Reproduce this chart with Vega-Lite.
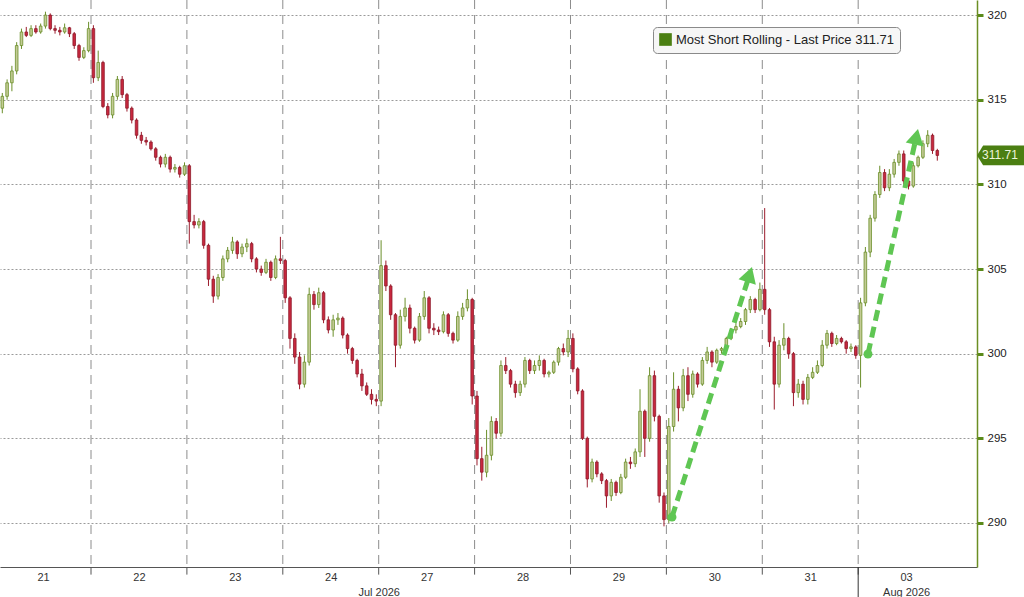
{
  "$schema": "https://vega.github.io/schema/vega-lite/v6.json",
  "width": 977,
  "height": 567,
  "autosize": {"type": "none"},
  "padding": {"left": 0, "top": 0, "right": 47, "bottom": 30},
  "background": "white",
  "config": {
    "font": "Liberation Sans",
    "view": {"stroke": null},
    "legend": {
      "orient": "none",
      "legendX": 653,
      "legendY": 27,
      "fillColor": "#f6f6f6",
      "strokeColor": "#8a8a8a",
      "cornerRadius": 4,
      "padding": 6,
      "labelFontSize": 13,
      "labelColor": "#222222",
      "labelLimit": 400,
      "symbolType": "square",
      "symbolSize": 160,
      "symbolStrokeWidth": 0
    }
  },
  "resolve": {"axis": {"x": "independent", "y": "independent"}},
  "datasets": {
    "candles": [
      {"i":1,"o":314.5,"h":315.4,"l":314.2,"c":315.2},
      {"i":2,"o":315.2,"h":316.2,"l":315.0,"c":316.0},
      {"i":3,"o":316.0,"h":317.0,"l":315.5,"c":316.7},
      {"i":4,"o":316.7,"h":318.4,"l":316.5,"c":318.2},
      {"i":5,"o":318.2,"h":319.2,"l":318.0,"c":319.0},
      {"i":6,"o":319.0,"h":319.3,"l":318.7,"c":318.8},
      {"i":7,"o":318.8,"h":319.4,"l":318.7,"c":319.2},
      {"i":8,"o":319.2,"h":319.4,"l":318.9,"c":319.0},
      {"i":9,"o":319.0,"h":319.5,"l":318.9,"c":319.35},
      {"i":10,"o":319.35,"h":320.2,"l":319.2,"c":320.0},
      {"i":11,"o":320.0,"h":320.1,"l":319.1,"c":319.2},
      {"i":12,"o":319.2,"h":319.4,"l":318.9,"c":319.1},
      {"i":13,"o":319.1,"h":319.3,"l":318.8,"c":319.0},
      {"i":14,"o":319.0,"h":319.5,"l":318.9,"c":319.25},
      {"i":15,"o":319.25,"h":319.3,"l":318.7,"c":318.9},
      {"i":16,"o":318.9,"h":319.0,"l":318.0,"c":318.2},
      {"i":17,"o":318.2,"h":318.3,"l":317.3,"c":317.5},
      {"i":18,"o":317.5,"h":318.1,"l":317.4,"c":317.9},
      {"i":19,"o":317.9,"h":319.6,"l":317.8,"c":319.2},
      {"i":20,"o":319.2,"h":319.4,"l":316.0,"c":316.3},
      {"i":21,"o":316.3,"h":317.9,"l":316.1,"c":317.2},
      {"i":22,"o":317.2,"h":317.3,"l":314.5,"c":314.6},
      {"i":23,"o":314.6,"h":314.8,"l":313.9,"c":314.1},
      {"i":24,"o":314.1,"h":315.4,"l":313.9,"c":315.2},
      {"i":25,"o":315.2,"h":316.4,"l":315.0,"c":316.2},
      {"i":26,"o":316.2,"h":316.4,"l":315.1,"c":315.3},
      {"i":27,"o":315.3,"h":315.4,"l":314.3,"c":314.5},
      {"i":28,"o":314.5,"h":314.6,"l":313.6,"c":313.8},
      {"i":29,"o":313.8,"h":313.9,"l":312.7,"c":312.9},
      {"i":30,"o":312.9,"h":313.1,"l":312.4,"c":312.6},
      {"i":31,"o":312.6,"h":312.8,"l":312.3,"c":312.5},
      {"i":32,"o":312.5,"h":312.6,"l":312.0,"c":312.1},
      {"i":33,"o":312.1,"h":312.2,"l":311.4,"c":311.6},
      {"i":34,"o":311.6,"h":311.7,"l":311.0,"c":311.2},
      {"i":35,"o":311.2,"h":311.8,"l":311.0,"c":311.6},
      {"i":36,"o":311.6,"h":311.7,"l":310.7,"c":310.9},
      {"i":37,"o":310.9,"h":311.2,"l":310.7,"c":311.0},
      {"i":38,"o":311.0,"h":311.1,"l":310.4,"c":310.6},
      {"i":39,"o":310.6,"h":311.3,"l":310.5,"c":311.1},
      {"i":40,"o":311.1,"h":311.2,"l":306.5,"c":307.8},
      {"i":41,"o":307.8,"h":308.2,"l":307.4,"c":307.6},
      {"i":42,"o":307.6,"h":308.0,"l":307.4,"c":307.8},
      {"i":43,"o":307.8,"h":307.9,"l":306.2,"c":306.4},
      {"i":44,"o":306.4,"h":306.5,"l":304.0,"c":304.4},
      {"i":45,"o":304.4,"h":304.6,"l":303.0,"c":303.4},
      {"i":46,"o":303.4,"h":304.7,"l":303.2,"c":304.5},
      {"i":47,"o":304.5,"h":305.8,"l":304.3,"c":305.6},
      {"i":48,"o":305.6,"h":306.3,"l":305.4,"c":306.1},
      {"i":49,"o":306.1,"h":306.9,"l":305.9,"c":306.6},
      {"i":50,"o":306.6,"h":306.7,"l":305.6,"c":305.9},
      {"i":51,"o":305.9,"h":306.5,"l":305.7,"c":306.3},
      {"i":52,"o":306.3,"h":306.8,"l":306.0,"c":306.5},
      {"i":53,"o":306.5,"h":306.6,"l":305.4,"c":305.6},
      {"i":54,"o":305.6,"h":305.7,"l":304.8,"c":305.0},
      {"i":55,"o":305.0,"h":305.2,"l":304.6,"c":304.8},
      {"i":56,"o":304.8,"h":305.6,"l":304.7,"c":305.4},
      {"i":57,"o":305.4,"h":305.5,"l":304.3,"c":304.5},
      {"i":58,"o":304.5,"h":305.8,"l":304.4,"c":305.6},
      {"i":59,"o":305.6,"h":306.9,"l":305.3,"c":305.5},
      {"i":60,"o":305.5,"h":305.6,"l":303.0,"c":303.3},
      {"i":61,"o":303.3,"h":303.4,"l":300.3,"c":300.9},
      {"i":62,"o":300.9,"h":301.2,"l":299.4,"c":299.8},
      {"i":63,"o":299.8,"h":300.1,"l":297.9,"c":298.2},
      {"i":64,"o":298.2,"h":299.9,"l":298.0,"c":299.5},
      {"i":65,"o":299.5,"h":303.9,"l":299.3,"c":303.5},
      {"i":66,"o":303.5,"h":303.7,"l":302.6,"c":302.9},
      {"i":67,"o":302.9,"h":303.9,"l":302.7,"c":303.6},
      {"i":68,"o":303.6,"h":303.7,"l":301.8,"c":302.0},
      {"i":69,"o":302.0,"h":302.2,"l":301.2,"c":301.4},
      {"i":70,"o":301.4,"h":302.3,"l":301.0,"c":302.0},
      {"i":71,"o":302.0,"h":302.4,"l":301.7,"c":302.1},
      {"i":72,"o":302.1,"h":302.2,"l":300.9,"c":301.1},
      {"i":73,"o":301.1,"h":301.2,"l":300.0,"c":300.3},
      {"i":74,"o":300.3,"h":300.4,"l":299.4,"c":299.6},
      {"i":75,"o":299.6,"h":299.7,"l":298.6,"c":298.8},
      {"i":76,"o":298.8,"h":299.1,"l":297.8,"c":298.1},
      {"i":77,"o":298.1,"h":298.3,"l":297.5,"c":297.6},
      {"i":78,"o":297.6,"h":297.9,"l":297.0,"c":297.3},
      {"i":79,"o":297.3,"h":297.6,"l":296.9,"c":297.2},
      {"i":80,"o":297.2,"h":306.7,"l":296.9,"c":305.2},
      {"i":81,"o":305.2,"h":305.5,"l":303.7,"c":304.0},
      {"i":82,"o":304.0,"h":304.1,"l":302.0,"c":302.3},
      {"i":83,"o":302.3,"h":302.4,"l":299.2,"c":300.5},
      {"i":84,"o":300.5,"h":302.6,"l":300.3,"c":302.2},
      {"i":85,"o":302.2,"h":303.3,"l":301.9,"c":302.7},
      {"i":86,"o":302.7,"h":302.9,"l":301.2,"c":301.5},
      {"i":87,"o":301.5,"h":301.6,"l":300.6,"c":300.8},
      {"i":88,"o":300.8,"h":302.4,"l":300.7,"c":302.2},
      {"i":89,"o":302.2,"h":303.7,"l":302.0,"c":303.3},
      {"i":90,"o":303.3,"h":303.4,"l":301.2,"c":301.5},
      {"i":91,"o":301.5,"h":301.8,"l":301.1,"c":301.4},
      {"i":92,"o":301.4,"h":301.6,"l":301.1,"c":301.3},
      {"i":93,"o":301.3,"h":302.5,"l":301.2,"c":302.3},
      {"i":94,"o":302.3,"h":302.4,"l":301.0,"c":301.2},
      {"i":95,"o":301.2,"h":301.3,"l":300.6,"c":300.8},
      {"i":96,"o":300.8,"h":302.5,"l":300.7,"c":302.2},
      {"i":97,"o":302.2,"h":303.0,"l":302.0,"c":302.7},
      {"i":98,"o":302.7,"h":303.8,"l":302.5,"c":303.2},
      {"i":99,"o":303.2,"h":303.3,"l":297.0,"c":297.5},
      {"i":100,"o":297.5,"h":297.8,"l":293.4,"c":293.8},
      {"i":101,"o":293.8,"h":294.5,"l":292.5,"c":293.0},
      {"i":102,"o":293.0,"h":295.5,"l":292.7,"c":294.0},
      {"i":103,"o":294.0,"h":296.3,"l":293.7,"c":296.0},
      {"i":104,"o":296.0,"h":296.2,"l":295.0,"c":295.3},
      {"i":105,"o":295.3,"h":299.6,"l":295.1,"c":299.3},
      {"i":106,"o":299.3,"h":299.8,"l":298.8,"c":299.0},
      {"i":107,"o":299.0,"h":299.1,"l":298.0,"c":298.2},
      {"i":108,"o":298.2,"h":298.4,"l":297.4,"c":297.7},
      {"i":109,"o":297.7,"h":298.4,"l":297.5,"c":298.2},
      {"i":110,"o":298.2,"h":299.8,"l":298.0,"c":299.6},
      {"i":111,"o":299.6,"h":299.7,"l":298.8,"c":299.0},
      {"i":112,"o":299.0,"h":299.6,"l":298.8,"c":299.3},
      {"i":113,"o":299.3,"h":299.9,"l":299.0,"c":299.6},
      {"i":114,"o":299.6,"h":299.7,"l":298.6,"c":298.8},
      {"i":115,"o":298.8,"h":299.0,"l":298.6,"c":298.9},
      {"i":116,"o":298.9,"h":299.6,"l":298.8,"c":299.5},
      {"i":117,"o":299.5,"h":300.4,"l":299.3,"c":300.3},
      {"i":118,"o":300.3,"h":300.6,"l":299.9,"c":300.1},
      {"i":119,"o":300.1,"h":301.4,"l":299.8,"c":300.9},
      {"i":120,"o":300.9,"h":301.2,"l":298.9,"c":299.1},
      {"i":121,"o":299.1,"h":299.2,"l":297.6,"c":297.8},
      {"i":122,"o":297.8,"h":297.9,"l":294.9,"c":295.0},
      {"i":123,"o":295.0,"h":295.1,"l":292.1,"c":292.6},
      {"i":124,"o":292.6,"h":293.8,"l":292.4,"c":293.6},
      {"i":125,"o":293.6,"h":293.7,"l":292.7,"c":292.9},
      {"i":126,"o":292.9,"h":293.0,"l":292.3,"c":292.5},
      {"i":127,"o":292.5,"h":292.6,"l":290.9,"c":291.6},
      {"i":128,"o":291.6,"h":292.6,"l":291.3,"c":292.4},
      {"i":129,"o":292.4,"h":292.5,"l":291.6,"c":291.8},
      {"i":130,"o":291.8,"h":292.9,"l":291.7,"c":292.7},
      {"i":131,"o":292.7,"h":293.8,"l":292.6,"c":293.6},
      {"i":132,"o":293.6,"h":293.9,"l":293.2,"c":293.5},
      {"i":133,"o":293.5,"h":294.4,"l":293.3,"c":294.2},
      {"i":134,"o":294.2,"h":297.9,"l":293.9,"c":296.6},
      {"i":135,"o":296.6,"h":296.7,"l":293.9,"c":295.0},
      {"i":136,"o":295.0,"h":299.2,"l":294.8,"c":298.7},
      {"i":137,"o":298.7,"h":299.0,"l":296.0,"c":296.3},
      {"i":138,"o":296.3,"h":296.4,"l":291.2,"c":291.6},
      {"i":139,"o":291.6,"h":291.8,"l":289.8,"c":290.2},
      {"i":140,"o":290.2,"h":296.2,"l":290.0,"c":295.7},
      {"i":141,"o":295.7,"h":298.9,"l":295.4,"c":297.9},
      {"i":142,"o":297.9,"h":298.1,"l":296.0,"c":296.8},
      {"i":143,"o":296.8,"h":299.1,"l":296.6,"c":298.7},
      {"i":144,"o":298.7,"h":299.2,"l":297.2,"c":297.6},
      {"i":145,"o":297.6,"h":299.0,"l":297.4,"c":298.8},
      {"i":146,"o":298.8,"h":298.9,"l":298.0,"c":298.2},
      {"i":147,"o":298.2,"h":299.8,"l":298.1,"c":299.6},
      {"i":148,"o":299.6,"h":300.4,"l":299.4,"c":300.1},
      {"i":149,"o":300.1,"h":300.2,"l":299.2,"c":299.5},
      {"i":150,"o":299.5,"h":300.3,"l":299.4,"c":300.2},
      {"i":151,"o":300.2,"h":300.4,"l":300.0,"c":300.3},
      {"i":152,"o":300.3,"h":301.0,"l":300.2,"c":300.9},
      {"i":153,"o":300.9,"h":301.5,"l":300.8,"c":301.4},
      {"i":154,"o":301.4,"h":301.8,"l":301.2,"c":301.6},
      {"i":155,"o":301.6,"h":302.1,"l":301.5,"c":301.9},
      {"i":156,"o":301.9,"h":302.7,"l":301.7,"c":302.6},
      {"i":157,"o":302.6,"h":303.4,"l":302.4,"c":303.2},
      {"i":158,"o":303.2,"h":303.3,"l":302.4,"c":302.6},
      {"i":159,"o":302.6,"h":304.2,"l":302.5,"c":303.8},
      {"i":160,"o":303.8,"h":308.6,"l":302.3,"c":302.6},
      {"i":161,"o":302.6,"h":302.7,"l":300.4,"c":300.7},
      {"i":162,"o":300.7,"h":301.0,"l":296.7,"c":298.2},
      {"i":163,"o":298.2,"h":300.8,"l":298.0,"c":300.5},
      {"i":164,"o":300.5,"h":301.8,"l":300.2,"c":300.9},
      {"i":165,"o":300.9,"h":301.0,"l":299.7,"c":300.0},
      {"i":166,"o":300.0,"h":300.1,"l":296.9,"c":297.7},
      {"i":167,"o":297.7,"h":298.5,"l":297.4,"c":298.2},
      {"i":168,"o":298.2,"h":298.4,"l":297.0,"c":297.3},
      {"i":169,"o":297.3,"h":298.8,"l":297.0,"c":298.6},
      {"i":170,"o":298.6,"h":299.2,"l":298.5,"c":298.9},
      {"i":171,"o":298.9,"h":299.6,"l":298.8,"c":299.3},
      {"i":172,"o":299.3,"h":300.8,"l":299.2,"c":300.5},
      {"i":173,"o":300.5,"h":301.4,"l":300.3,"c":301.2},
      {"i":174,"o":301.2,"h":301.3,"l":300.4,"c":300.6},
      {"i":175,"o":300.6,"h":301.1,"l":300.5,"c":300.9},
      {"i":176,"o":300.9,"h":301.0,"l":300.6,"c":300.7},
      {"i":177,"o":300.7,"h":300.8,"l":300.0,"c":300.3},
      {"i":178,"o":300.3,"h":300.6,"l":300.1,"c":300.4},
      {"i":179,"o":300.4,"h":300.5,"l":299.7,"c":299.9},
      {"i":180,"o":299.9,"h":303.3,"l":298.0,"c":303.0},
      {"i":181,"o":303.0,"h":306.3,"l":302.8,"c":306.0},
      {"i":182,"o":306.0,"h":308.2,"l":305.7,"c":308.0},
      {"i":183,"o":308.0,"h":309.6,"l":307.8,"c":309.4},
      {"i":184,"o":309.4,"h":311.1,"l":309.2,"c":310.7},
      {"i":185,"o":310.7,"h":310.9,"l":309.6,"c":309.8},
      {"i":186,"o":309.8,"h":310.9,"l":309.6,"c":310.6},
      {"i":187,"o":310.6,"h":311.5,"l":310.4,"c":311.3},
      {"i":188,"o":311.3,"h":312.0,"l":311.1,"c":311.8},
      {"i":189,"o":311.8,"h":312.0,"l":310.0,"c":310.2},
      {"i":190,"o":310.2,"h":310.3,"l":309.7,"c":309.9},
      {"i":191,"o":309.9,"h":311.3,"l":309.8,"c":311.1},
      {"i":192,"o":311.1,"h":311.7,"l":311.0,"c":311.6},
      {"i":193,"o":311.6,"h":312.6,"l":311.5,"c":312.4},
      {"i":194,"o":312.4,"h":313.2,"l":312.2,"c":312.9},
      {"i":195,"o":312.9,"h":313.0,"l":311.8,"c":312.0},
      {"i":196,"o":312.0,"h":312.1,"l":311.4,"c":311.71}
    ],
    "bounds": [
      {"b":19.5},{"b":39.5},{"b":59.5},{"b":79.5},{"b":99.5},
      {"b":119.5},{"b":139.5},{"b":159.5},{"b":179.5}
    ],
    "arrows": [
      {"id":1,"i0":140.67,"v0":290.35,"i1":156.85,"v1":304.67},
      {"id":2,"i0":181.54,"v0":299.98,"i1":191.62,"v1":312.81}
    ],
    "last": [
      {"v":311.71,"s":"Most Short Rolling - Last Price 311.71"}
    ]
  },
  "layer": [
    {
      "data": {"name": "candles"},
      "transform": [{"filter": "datum.c >= datum.o"}],
      "mark": {"type": "rule", "color": "#6b8f2a", "strokeWidth": 1},
      "encoding": {
        "x": {
          "field": "i", "type": "quantitative",
          "scale": {"domain": [0.52, 204.28], "nice": false, "zero": false, "padding": 0},
          "axis": {
            "title": null,
            "values": [9.5, 29.5, 49.5, 69.5, 79.5, 89.5, 109.5, 129.5, 149.5, 169.5, 189.5],
            "labelExpr": "datum.value == 79.5 ? ['', 'Jul 2026'] : datum.value == 189.5 ? ['03', 'Aug 2026'] : ['21','22','23','24','27','28','29','30','31','03'][floor(datum.value / 20)]",
            "ticks": false,
            "tickSize": 0,
            "grid": false,
            "domainColor": "#555555",
            "domainWidth": 1,
            "labelFontSize": 11,
            "labelColor": "#333333",
            "labelPadding": 4,
            "labelOverlap": false,
            "labelFlush": false,
            "labelLineHeight": 15,
            "labelBaseline": "top"
          }
        },
        "y": {
          "field": "l", "type": "quantitative",
          "scale": {"domain": [287.4, 320.89], "nice": false, "zero": false, "padding": 0},
          "axis": {
            "title": null,
            "orient": "right",
            "values": [290, 295, 300, 305, 310, 315, 320],
            "grid": true,
            "gridColor": "#9a9a9a",
            "gridDash": [2, 2],
            "gridWidth": 1,
            "domainColor": "#6b8e23",
            "domainWidth": 1.5,
            "tickColor": "#5a8a1a",
            "tickSize": 6,
            "tickWidth": 3,
            "labelPadding": 4,
            "labelFontSize": 11.5,
            "labelColor": "#222222",
            "labelOverlap": false,
            "labelFlush": false
          }
        },
        "y2": {"field": "h"}
      }
    },
    {
      "data": {"name": "bounds"},
      "mark": {"type": "rule", "color": "#8c8c8c", "strokeWidth": 1, "strokeDash": [9, 6]},
      "encoding": {
        "x": {"field": "b", "type": "quantitative", "scale": {"domain": [0.52, 204.28], "nice": false, "zero": false, "padding": 0}, "axis": null}
      }
    },
    {
      "data": {"name": "bounds"},
      "mark": {"type": "rule", "color": "#555555", "strokeWidth": 1},
      "encoding": {
        "x": {"field": "b", "type": "quantitative", "scale": {"domain": [0.52, 204.28], "nice": false, "zero": false, "padding": 0}, "axis": null},
        "y": {"datum": 287.4, "scale": {"domain": [287.4, 320.89], "nice": false, "zero": false, "padding": 0}, "axis": null},
        "y2": {"datum": 286.95}
      }
    },
    {
      "data": {"name": "bounds"},
      "transform": [{"filter": "datum.b == 179.5"}],
      "mark": {"type": "rule", "color": "#333333", "strokeWidth": 1},
      "encoding": {
        "x": {"field": "b", "type": "quantitative", "scale": {"domain": [0.52, 204.28], "nice": false, "zero": false, "padding": 0}, "axis": null},
        "y": {"datum": 287.4, "scale": {"domain": [287.4, 320.89], "nice": false, "zero": false, "padding": 0}, "axis": null},
        "y2": {"datum": 285.6}
      }
    },
    {
      "data": {"name": "candles"},
      "transform": [{"filter": "datum.c < datum.o"}],
      "mark": {"type": "rule", "color": "#9b1c2c", "strokeWidth": 1},
      "encoding": {
        "x": {"field": "i", "type": "quantitative", "scale": {"domain": [0.52, 204.28], "nice": false, "zero": false, "padding": 0}, "axis": null},
        "y": {"field": "l", "type": "quantitative", "scale": {"domain": [287.4, 320.89], "nice": false, "zero": false, "padding": 0}, "axis": null},
        "y2": {"field": "h"}
      }
    },
    {
      "data": {"name": "candles"},
      "transform": [{"filter": "datum.c >= datum.o"}],
      "mark": {"type": "bar", "size": 2.6, "fill": "#c3cb95", "stroke": "#6b8f2a", "strokeWidth": 0.8},
      "encoding": {
        "x": {"field": "i", "type": "quantitative", "scale": {"domain": [0.52, 204.28], "nice": false, "zero": false, "padding": 0}, "axis": null},
        "y": {"field": "o", "type": "quantitative", "scale": {"domain": [287.4, 320.89], "nice": false, "zero": false, "padding": 0}, "axis": null},
        "y2": {"field": "c"}
      }
    },
    {
      "data": {"name": "candles"},
      "transform": [{"filter": "datum.c < datum.o"}],
      "mark": {"type": "bar", "size": 2.6, "fill": "#c8283e", "stroke": "#8e1a2b", "strokeWidth": 0.8},
      "encoding": {
        "x": {"field": "i", "type": "quantitative", "scale": {"domain": [0.52, 204.28], "nice": false, "zero": false, "padding": 0}, "axis": null},
        "y": {"field": "o", "type": "quantitative", "scale": {"domain": [287.4, 320.89], "nice": false, "zero": false, "padding": 0}, "axis": null},
        "y2": {"field": "c"}
      }
    },
    {
      "data": {"name": "arrows"},
      "mark": {"type": "rule", "color": "#5fc653", "strokeWidth": 5, "strokeDash": [11, 6]},
      "encoding": {
        "x": {"field": "i0", "type": "quantitative", "scale": {"domain": [0.52, 204.28], "nice": false, "zero": false, "padding": 0}, "axis": null},
        "y": {"field": "v0", "type": "quantitative", "scale": {"domain": [287.4, 320.89], "nice": false, "zero": false, "padding": 0}, "axis": null},
        "x2": {"field": "i1"},
        "y2": {"field": "v1"}
      }
    },
    {
      "data": {"name": "arrows"},
      "mark": {"type": "point", "shape": "circle", "filled": true, "size": 80, "color": "#5fc653", "opacity": 1},
      "encoding": {
        "x": {"field": "i0", "type": "quantitative", "scale": {"domain": [0.52, 204.28], "nice": false, "zero": false, "padding": 0}, "axis": null},
        "y": {"field": "v0", "type": "quantitative", "scale": {"domain": [287.4, 320.89], "nice": false, "zero": false, "padding": 0}, "axis": null}
      }
    },
    {
      "data": {"name": "arrows"},
      "transform": [{"filter": "datum.id == 1"}],
      "mark": {"type": "point", "shape": "triangle-up", "filled": true, "size": 330, "angle": 17.7, "color": "#5fc653", "opacity": 1},
      "encoding": {
        "x": {"field": "i1", "type": "quantitative", "scale": {"domain": [0.52, 204.28], "nice": false, "zero": false, "padding": 0}, "axis": null},
        "y": {"field": "v1", "type": "quantitative", "scale": {"domain": [287.4, 320.89], "nice": false, "zero": false, "padding": 0}, "axis": null}
      }
    },
    {
      "data": {"name": "arrows"},
      "transform": [{"filter": "datum.id == 2"}],
      "mark": {"type": "point", "shape": "triangle-up", "filled": true, "size": 330, "angle": 12.5, "color": "#5fc653", "opacity": 1},
      "encoding": {
        "x": {"field": "i1", "type": "quantitative", "scale": {"domain": [0.52, 204.28], "nice": false, "zero": false, "padding": 0}, "axis": null},
        "y": {"field": "v1", "type": "quantitative", "scale": {"domain": [287.4, 320.89], "nice": false, "zero": false, "padding": 0}, "axis": null}
      }
    },
    {
      "data": {"name": "last"},
      "mark": {"type": "point", "shape": "M0,0L0.13,-0.21L1,-0.21L1,0.21L0.13,0.21Z", "filled": true, "size": 8836, "opacity": 1, "strokeWidth": 0},
      "encoding": {
        "x": {"value": "width"},
        "y": {"field": "v", "type": "quantitative", "scale": {"domain": [287.4, 320.89], "nice": false, "zero": false, "padding": 0}, "axis": null},
        "color": {
          "field": "s", "type": "nominal",
          "scale": {"range": ["#4b7f12"]},
          "legend": {"title": null, "symbolType": "square"}
        }
      }
    },
    {
      "data": {"name": "last"},
      "mark": {"type": "text", "align": "left", "baseline": "middle", "dx": 5, "fontSize": 12, "color": "#eef5dc"},
      "encoding": {
        "x": {"value": "width"},
        "y": {"field": "v", "type": "quantitative", "scale": {"domain": [287.4, 320.89], "nice": false, "zero": false, "padding": 0}, "axis": null},
        "text": {"field": "v", "type": "quantitative", "format": ".2f"}
      }
    }
  ]
}
